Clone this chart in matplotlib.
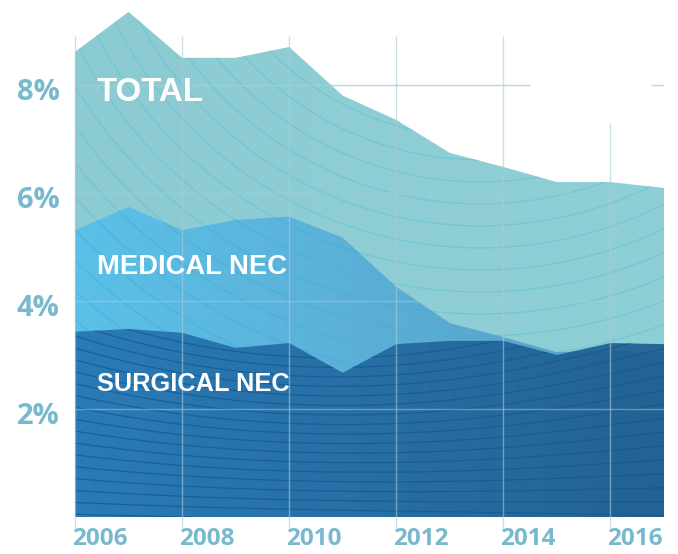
import numpy as np
import matplotlib
import matplotlib.pyplot as plt
from matplotlib.colors import LinearSegmentedColormap
from matplotlib.transforms import ScaledTranslation

years = [2006, 2007, 2008, 2009, 2010, 2011, 2012, 2013, 2014, 2015, 2016, 2017]
total = [8.61, 9.35, 8.50, 8.50, 8.70, 7.80, 7.35, 6.74, 6.48, 6.20, 6.20, 6.09]
medical = [5.31, 5.74, 5.31, 5.50, 5.56, 5.17, 4.26, 3.59, 3.33, 3.05, 3.09, 3.04]
surgical = [3.43, 3.48, 3.41, 3.13, 3.22, 2.67, 3.20, 3.26, 3.26, 3.00, 3.22, 3.20]

series_labels = ["TOTAL", "MEDICAL NEC", "SURGICAL NEC"]
ytick_vals = [2, 4, 6, 8]
xtick_vals = [2006, 2008, 2010, 2012, 2014, 2016]

YMAX = 9.57
tick_color = "#78b9cd"

fig = plt.figure(figsize=(6.78, 5.54), dpi=100)
ax = fig.add_axes([75 / 678, 37 / 554, 589 / 678, 517 / 554])


def to_px(X, Y):
    return 75 + (X - 2006) * 53.5, 517 - Y * 54


def gradient_area(y, c0, c1, alpha, z):
    poly = ax.fill_between(years, 0, y, color="none", lw=0)
    path = poly.get_paths()[0]
    cmap = LinearSegmentedColormap.from_list("g", [c0, c1])
    im = ax.imshow(np.linspace(0, 1, 256)[None, :], extent=[2006, 2017, 0, YMAX],
                   aspect="auto", cmap=cmap, alpha=alpha, zorder=z,
                   interpolation="bilinear")
    im.set_clip_path(path, transform=ax.transData)
    return path


# background texture grid
X, Y = np.meshgrid(np.linspace(2006, 2017, 300), np.linspace(0, YMAX, 300))
px, py = to_px(X, Y)
rings = np.sqrt((px - 480) ** 2 + (py + 160) ** 2)
waves = Y * (1 + 0.25 * np.sin((X - 2006) / 11 * np.pi * 1.2)) + 0.25 * (X - 2006) / 11

p_total = gradient_area(total, "#8dcbd2", "#8fd0d6", 1.0, 1)
cs = ax.contour(X, Y, rings, levels=np.arange(100, 900, 22), colors="#62c3d6",
                linewidths=0.9, alpha=0.6, zorder=1.5)
cs.set_clip_path(p_total, transform=ax.transData)

p_med = gradient_area(medical, "#5cc0e8", "#5a9ec4", 1.0, 2)
cs = ax.contour(X, Y, rings, levels=np.arange(100, 900, 22), colors="#3fb0dc",
                linewidths=0.9, alpha=0.6, zorder=2.5)
cs.set_clip_path(p_med, transform=ax.transData)

p_surg = gradient_area(surgical, "#2574b1", "#1d5b8d", 0.9, 3)
cs = ax.contour(X, Y, waves, levels=np.arange(0.05, 4, 0.22), colors="#155890",
                linewidths=0.9, alpha=0.75, zorder=3.5)
cs.set_clip_path(p_surg, transform=ax.transData)

# grid lines
for v in ytick_vals:
    if v == 8:
        ax.hlines(v, 2006, 2014.5, color="#a9ccd6", lw=1, alpha=0.8, zorder=5)
        ax.hlines(v, 2016.75, 2017, color="#a9ccd6", lw=1, alpha=0.8, zorder=5)
    else:
        ax.hlines(v, 2006, 2017, color="#a9ccd6", lw=1, alpha=0.5, zorder=5)
for v in xtick_vals:
    top = 7.3 if v == 2016 else 8.9
    ax.vlines(v, -0.24, top, color="#a9ccd6", lw=1, alpha=0.6, zorder=5,
              clip_on=False)

ax.set_xlim(2006, 2017)
ax.set_ylim(0, YMAX)
for s in ax.spines.values():
    s.set_visible(False)

ax.set_yticks(ytick_vals, [f"{v}%" for v in ytick_vals])
ax.set_xticks(xtick_vals, [str(v) for v in xtick_vals])
ax.tick_params(length=0, colors=tick_color)
ax.tick_params(axis="y", pad=11)
ax.tick_params(axis="x", pad=7)
down = ScaledTranslation(0, -4 / 100, fig.dpi_scale_trans)
for lab in ax.get_yticklabels():
    lab.set_fontfamily("Open Sans")
    lab.set_fontweight("bold")
    lab.set_fontsize(21)
    lab.set_transform(lab.get_transform() + down)
left = ScaledTranslation(-3 / 100, 0, fig.dpi_scale_trans)
for lab in ax.get_xticklabels():
    lab.set_fontfamily("Open Sans")
    lab.set_fontweight("bold")
    lab.set_fontsize(17.5)
    lab.set_horizontalalignment("left")
    lab.set_transform(lab.get_transform() + left)

label_y = [7.85, 4.63, 2.46]
label_size = [23.8, 19.7, 18.3]
for txt, ly, fs in zip(series_labels, label_y, label_size):
    ax.text(2006.41, ly, txt, color="white", fontsize=fs, fontweight="bold",
            family="Liberation Sans", va="center", ha="left", zorder=6)

fig.savefig("out.png", dpi=100)
